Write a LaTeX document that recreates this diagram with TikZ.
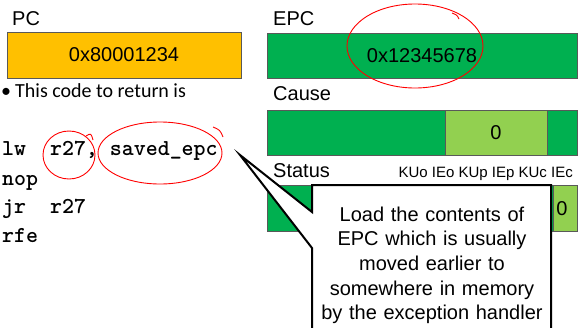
\documentclass[tikz,border=0pt]{standalone}
\usepackage{fontspec}
\setmainfont{Liberation Sans}
\newfontfamily\carl{Carlito}
\definecolor{pcorange}{HTML}{FFC000}
\definecolor{regreen}{HTML}{00B050}
\definecolor{ltgreen}{HTML}{92D050}
\definecolor{boxedge}{HTML}{595959}
\definecolor{inkred}{HTML}{FF0000}
\begin{document}
\begin{tikzpicture}[x=1pt,y=-1pt,
  regbox/.style={draw=boxedge,line width=0.8pt},
  lbl/.style={anchor=base west,inner sep=0pt,font=\fontsize{20}{24}\selectfont},
  val/.style={inner sep=0pt,font=\fontsize{20}{24}\selectfont},
  code/.style={anchor=base west,inner sep=0pt,font=\fontsize{22.8}{24}\selectfont\ttfamily\bfseries},
  ink/.style={draw=inkred,line width=0.9pt},
  callout/.style={draw=black,fill=white,line width=2pt,line join=miter}]
\useasboundingbox (0,0) rectangle (584,327);
% PC
\node[lbl] (pcl) at (12,25) {PC};
\filldraw[regbox,fill=pcorange] (7,32) rectangle (241,78);
\node[val] (pcv) at (124,55) {0x80001234};
\node[inner sep=0pt,font=\carl\fontsize{20}{24}\selectfont,anchor=base west] (bul) at (1,97) {\textbullet};
\node[inner sep=0pt,font=\carl\fontsize{20}{24}\selectfont,anchor=base west] (ret) at (15,97) {This code to return is};
% code
\node[code] (c1) at (2,155) {lw\ \ r27,\ saved\_epc};
\node[code] (c2) at (2,185) {nop};
\node[code] (c3) at (2,213) {jr\ \ r27};
\node[code] (c4) at (2,242) {rfe};
% EPC
\node[lbl] (epcl) at (273,25) {EPC};
\filldraw[regbox,fill=regreen] (267,33) rectangle (577,78);
\node[val] (epcv) at (422,56) {0x12345678};
% Cause
\node[lbl] (causel) at (273,100) {Cause};
\filldraw[regbox,fill=regreen] (267,110) rectangle (577,155);
\filldraw[regbox,fill=ltgreen] (445,110) rectangle (547,155);
\node[val] (causev) at (496,133) {0};
% Status
\node[lbl] (statl) at (273,177) {Status};
\node[anchor=base east,inner sep=0pt,font=\fontsize{15}{18}\selectfont] (fields) at (573,177) {KUo IEo KUp IEp KUc IEc};
\filldraw[regbox,fill=regreen] (267,185) rectangle (577,231);
\filldraw[regbox,fill=ltgreen] (553,185) rectangle (577,231);
\node[val] (statv) at (562,209) {0};
% red ink
\draw[ink] (415,46) ellipse [x radius=68, y radius=42];
\draw[ink] (452,13) .. controls (457,15) .. (459,19);
\draw[ink] (69,155) ellipse [x radius=26, y radius=24];
\draw[ink] (86,136) .. controls (91,133) .. (93,140);
\draw[ink] (160,153) ellipse [x radius=62, y radius=31];
\draw[ink] (213,127) .. controls (220,130) .. (223,137);
% callout
\coordinate (tip) at (240,155);
\draw[callout] (312,185) -- (551,185) -- (551,332) -- (312,332) -- (312,248) -- (tip) -- (312,212) -- cycle;
\node[anchor=base,inner sep=0pt,text width=240pt,align=center,font=\fontsize{20}{24.7}\selectfont] (note) at (432,221)
  {Load the contents of\\EPC which is usually\\moved earlier to\\somewhere in memory\\by the exception handler};
\end{tikzpicture}
\end{document}
